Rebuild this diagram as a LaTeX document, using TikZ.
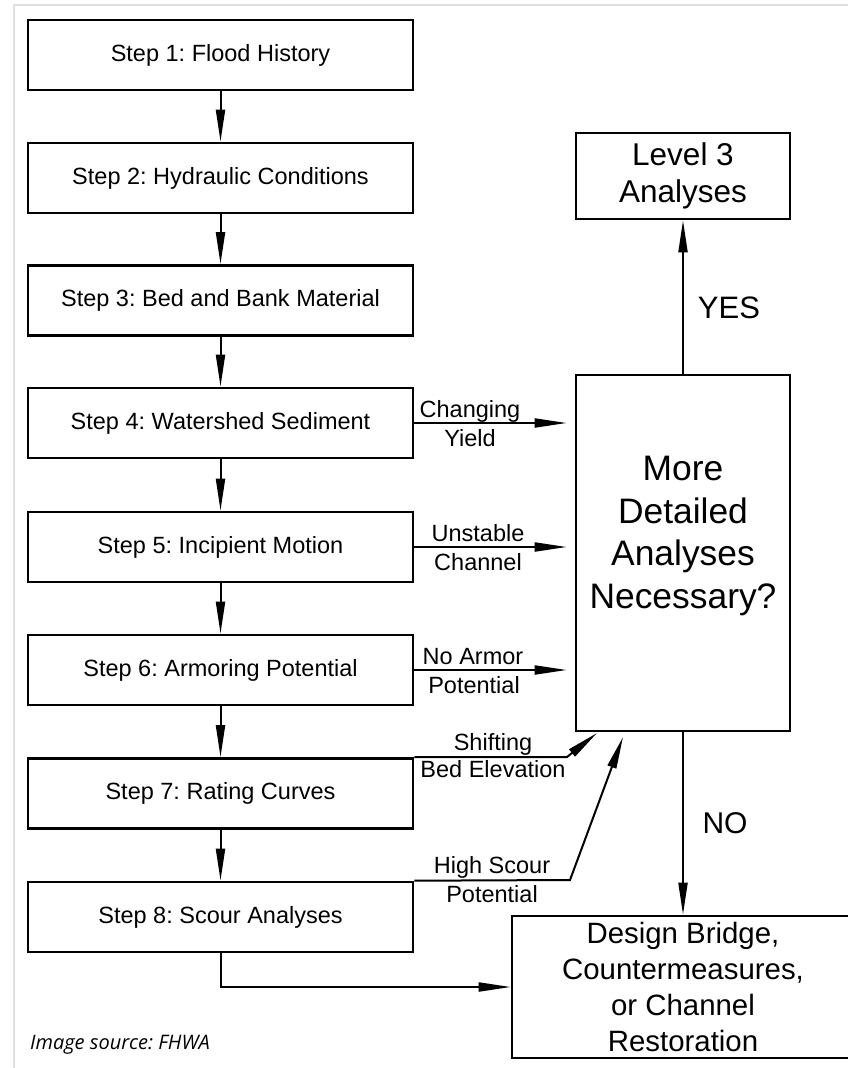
\documentclass[tikz,border=0pt]{standalone}
\usepackage{fontspec}
\setmainfont{Liberation Sans}
\newfontfamily\capfont{Open Sans}
\usetikzlibrary{arrows.meta}
\frenchspacing

\tikzset{
  stepbox/.style={draw, line width=2.6pt, minimum width=385pt, minimum height=70pt,
    inner sep=0pt, font=\fontsize{23.5}{28}\selectfont},
  bigbox/.style={draw, line width=2.6pt, minimum width=214pt, inner sep=0pt},
  conn/.style={line width=2pt, -{Triangle[length=32pt,width=9pt]}},
  lbl/.style={inner sep=0pt, anchor=base, font=\fontsize{23.5}{28}\selectfont},
  bigtext/.style={inner sep=0pt, align=center},
}

\begin{document}
\begin{tikzpicture}[x=1pt,y=-1pt]
\useasboundingbox (0,0) rectangle (848,1068);
\clip (0,0) rectangle (848,1068);
\fill[white] (0,0) rectangle (848,1068);

% light page frame
\draw[black!12, line width=2pt] (14,1070) -- (14,5) -- (850,5);

% the eight steps
\node[stepbox] (s1) at (220.5,55)  {Step 1: Flood History};
\node[stepbox] (s2) at (220.5,178) {Step 2: Hydraulic Conditions};
\node[stepbox] (s3) at (220.5,300.5) {Step 3: Bed and Bank Material};
\node[stepbox] (s4) at (220.5,423) {Step 4: Watershed Sediment};
\node[stepbox] (s5) at (220.5,547) {Step 5: Incipient Motion};
\node[stepbox] (s6) at (220.5,670) {Step 6: Armoring Potential};
\node[stepbox] (s7) at (220.5,793.5) {Step 7: Rating Curves};
\node[stepbox] (s8) at (220.5,917) {Step 8: Scour Analyses};

% decision box and its question
\node[bigbox, minimum height=356pt] (big) at (683,553) {};
\node[bigtext, font=\fontsize{35.4}{42.7}\selectfont] (bigtxt) at (683,536)
  {More\\Detailed\\Analyses\\Necessary?};

% outcomes
\node[bigbox, minimum height=86pt, align=center,
  font=\fontsize{31.5}{37.5}\selectfont] (l3) at (683,176) {Level 3\\Analyses};
% the design box runs past the right edge of the page
\node[draw, line width=2.6pt, minimum width=390pt, minimum height=142pt,
  inner sep=0pt] (design) at (707,987) {};
\node[bigtext, font=\fontsize{29.4}{35.7}\selectfont] (designtxt) at (683,987)
  {Design Bridge,\\Countermeasures,\\or Channel\\Restoration};

% step-to-step flow
\draw[conn] (s1.south) -- (s2.north);
\draw[conn] (s2.south) -- (s3.north);
\draw[conn] (s3.south) -- (s4.north);
\draw[conn] (s4.south) -- (s5.north);
\draw[conn] (s5.south) -- (s6.north);
\draw[conn] (s6.south) -- (s7.north);
\draw[conn] (s7.south) -- (s8.north);
\draw[conn] (s8.south) |- (design.west);

% triggers for more detailed analyses
\draw[conn, shorten >=8pt] (s4.east) -- (s4.east -| big.west);
\draw[conn, shorten >=8pt] (s5.east) -- (s5.east -| big.west);
\draw[conn, shorten >=8pt] (s6.east) -- (s6.east -| big.west);
\coordinate (k7) at (567,757);
\coordinate (t7) at (597,733);
\draw[conn] (s7.north east) -- (k7) -- (t7);
\coordinate (k8) at (570,880);
\coordinate (t8) at (623,737);
\draw[conn] (s8.north east) -- (k8) -- (t8);

% decision outcomes
\draw[conn] (big.north) -- (l3.south);
\draw[conn] (big.south) -- (big.south |- design.north);

% connector labels
\node[lbl] (lchg) at (470,417) {Changing};
\node[lbl] (lyld) at (470,446) {Yield};
\node[lbl] (lust) at (478,541) {Unstable};
\node[lbl] (lchn) at (478,570) {Channel};
\node[lbl] (lnoa) at (473,664) {No Armor};
\node[lbl] (lpt1) at (474,693) {Potential};
\node[lbl] (lshf) at (493,750) {Shifting};
\node[lbl] (lbed) at (493,777) {Bed Elevation};
\node[lbl] (lhig) at (492,873) {High Scour};
\node[lbl] (lpt2) at (492,902) {Potential};
\node[lbl, font=\fontsize{31}{37}\selectfont] (lyes) at (729,318) {YES};
\node[lbl, font=\fontsize{30}{36}\selectfont] (lno) at (725,833) {NO};

% source note
\node[inner sep=0pt, anchor=base west, font=\capfont\itshape\fontsize{20}{24}\selectfont]
  (src) at (30,1049) {Image source: FHWA};
\end{tikzpicture}
\end{document}
